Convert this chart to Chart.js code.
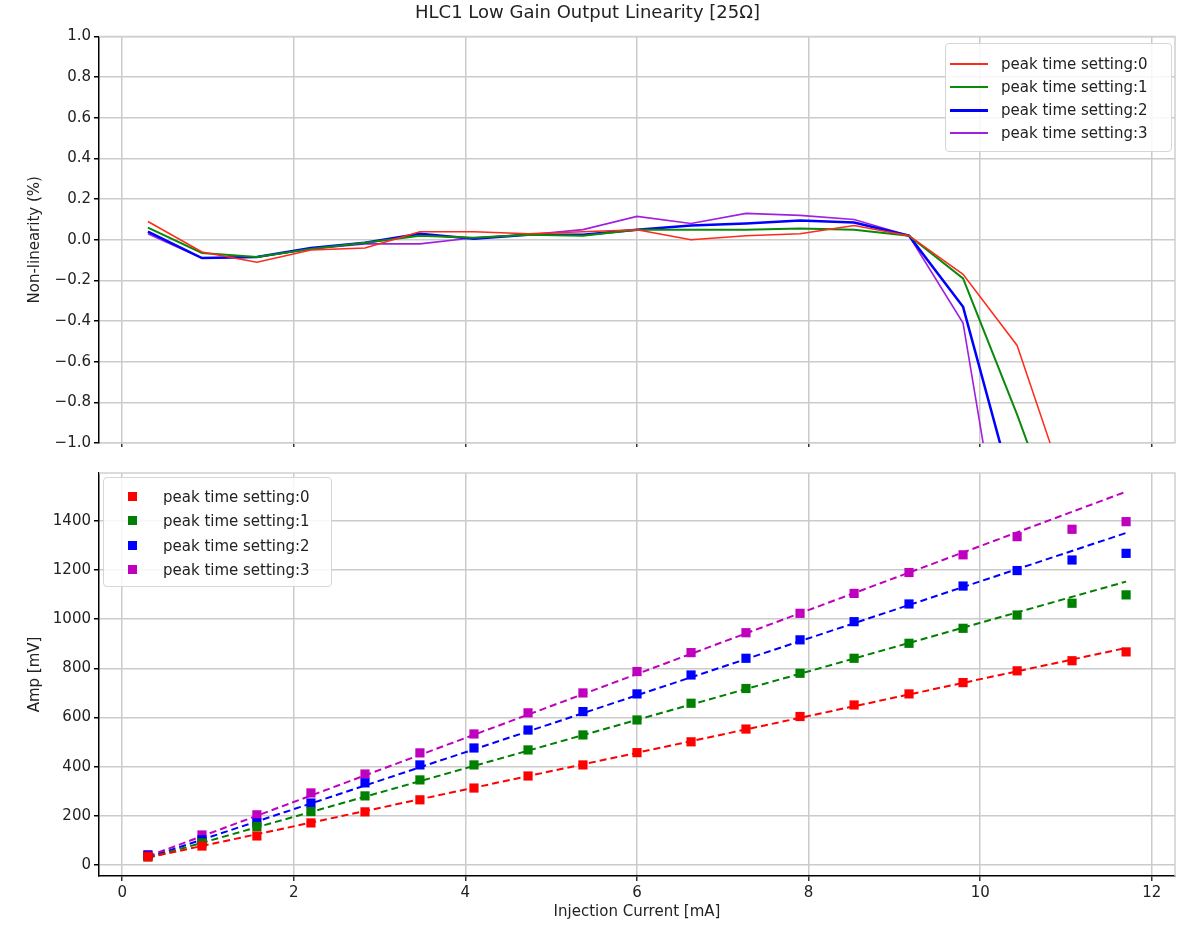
<!DOCTYPE html>
<html>
<head>
<meta charset="utf-8">
<title>HLC1 Low Gain Output Linearity</title>
<script src="https://cdn.jsdelivr.net/npm/chart.js@4.4.1/dist/chart.umd.min.js"></script>
<style>
    html, body { margin: 0; padding: 0; background: #fff; }
    .figure { position: relative; width: 1186px; height: 925px; overflow: hidden; font-family: "DejaVu Sans", sans-serif; }
    #nonlin_chart { position: absolute; left: 0; top: 0; }
    #amp_chart { position: absolute; left: 0; top: 460px; }
    .legend_box { position: absolute; background: rgba(255,255,255,0.85); border: 1px solid #d6d6d6; border-radius: 4px; font-size: 15px; color: #222; }
    .legend_row { position: absolute; left: 0; right: 0; height: 20px; line-height: 20px; white-space: nowrap; }
    .legend_row span { position: absolute; top: 0; }
    .legend_line { position: absolute; }
    .legend_mark { position: absolute; }
</style>
</head>
<body>
<div class="figure">
    <canvas id="nonlin_chart" width="1186" height="460"></canvas>
    <canvas id="amp_chart" width="1186" height="465"></canvas>
    <div class="legend_box" id="nonlin_legend" style="left:945px; top:43px; width:225px; height:107px;"></div>
    <div class="legend_box" id="amp_legend" style="left:103px; top:477px; width:227px; height:108px;"></div>
</div>
<script>
// injection current [mA], same for every setting
const currents = [0.30, 0.93, 1.57, 2.20, 2.83, 3.47, 4.10, 4.73, 5.37, 6.00, 6.63, 7.27, 7.90, 8.53, 9.17, 9.80, 10.43, 11.07, 11.70]

const series_labels = ['peak time setting:0', 'peak time setting:1', 'peak time setting:2', 'peak time setting:3']

// non-linearity (%) per setting
const nonlin_0 = [0.09, -0.06, -0.11, -0.05, -0.04, 0.04, 0.04, 0.03, 0.04, 0.05, 0.00, 0.02, 0.03, 0.07, 0.02, -0.17, -0.52, -1.32, -2.20]
const nonlin_1 = [0.06, -0.065, -0.085, -0.045, -0.015, 0.02, 0.01, 0.025, 0.02, 0.05, 0.05, 0.05, 0.055, 0.05, 0.02, -0.19, -0.86, -1.60, -2.60]
const nonlin_2 = [0.04, -0.09, -0.085, -0.04, -0.015, 0.03, 0.005, 0.025, 0.025, 0.05, 0.07, 0.08, 0.095, 0.085, 0.02, -0.33, -1.31, -2.20, -3.20]
const nonlin_3 = [0.03, -0.09, -0.085, -0.045, -0.02, -0.02, 0.01, 0.025, 0.05, 0.115, 0.08, 0.13, 0.12, 0.10, 0.02, -0.41, -2.00, -3.00, -4.00]

// measured amplitude [mV] per setting
const amp_0 = [33, 77, 118, 171, 216, 265, 313, 362, 407, 457, 501, 553, 604, 651, 696, 742, 790, 831, 867]
const amp_1 = [33, 90, 156, 217, 281, 346, 407, 468, 529, 590, 658, 718, 780, 841, 902, 963, 1017, 1065, 1099]
const amp_2 = [38, 102, 171, 252, 334, 407, 476, 549, 624, 696, 773, 841, 916, 990, 1062, 1135, 1198, 1241, 1268]
const amp_3 = [42, 122, 204, 293, 370, 456, 533, 619, 700, 787, 864, 945, 1024, 1105, 1190, 1262, 1336, 1366, 1397]

// linear fit end points
const fit_x = [0.30, 11.70]
const fit_0 = [30, 883]
const fit_1 = [28, 1153]
const fit_2 = [30, 1351]
const fit_3 = [35, 1519]

const x_ticks = [0, 2, 4, 6, 8, 10, 12]
const nonlin_ticks = [-1.0, -0.8, -0.6, -0.4, -0.2, 0.0, 0.2, 0.4, 0.6, 0.8, 1.0]
const amp_ticks = [0, 200, 400, 600, 800, 1000, 1200, 1400]

class LinearityFigure {
    constructor(){
        this.font = 'DejaVu Sans'
        this.text_color = '#222'
        this.grid_color = '#cbcbcb'
        this.line_colors = ['#ff2a1a', '#0a8a0a', '#0000ff', '#a020e0']
        this.line_widths = [1.5, 2, 2.5, 1.6]
        this.mark_colors = ['#ff0000', '#008000', '#0000ff', '#bf00bf']
        this.x_range = [-0.27, 12.27]

        this.frame = {
            id: 'frame',
            beforeDatasetsDraw(chart){
                const {ctx, chartArea} = chart
                ctx.save()
                ctx.strokeStyle = '#cfcfcf'
                ctx.lineWidth = 1.5
                ctx.beginPath()
                ctx.moveTo(chartArea.left, chartArea.top)
                ctx.lineTo(chartArea.right, chartArea.top)
                ctx.lineTo(chartArea.right, chartArea.bottom)
                ctx.stroke()
                ctx.restore()
            }
        }

        this.nonlin_plot()
        this.amp_plot()
        this.legends()
    }

    f(size){ return {family: this.font, size: size, lineHeight: 1.2} }

    x_scale(show_labels){
        return {
            type: 'linear',
            min: this.x_range[0],
            max: this.x_range[1],
            afterBuildTicks: s => { s.ticks = x_ticks.map(v => ({value: v})) },
            afterFit: s => { s.height = show_labels ? 49 : 17 },
            ticks: {display: show_labels, font: this.f(15), color: this.text_color, padding: 3, maxRotation: 0},
            grid: {color: this.grid_color, lineWidth: 1.5, tickLength: show_labels ? 5 : 4, tickColor: '#333'},
            border: {color: show_labels ? '#000' : '#cfcfcf', width: 1.5},
            title: {display: show_labels, text: 'Injection Current [mA]', font: this.f(15), color: this.text_color, padding: {top: 0, bottom: 4}}
        }
    }

    y_scale(min, max, ticks, label, fmt){
        return {
            type: 'linear',
            min: min,
            max: max,
            afterBuildTicks: s => { s.ticks = ticks.map(v => ({value: v})) },
            afterFit: s => { s.width = 99 },
            ticks: {font: this.f(15), color: this.text_color, padding: 3, callback: fmt},
            grid: {color: this.grid_color, lineWidth: 1.5, tickLength: 5, tickColor: '#000'},
            border: {color: '#000', width: 1.5},
            title: {display: true, text: label, font: this.f(15), color: this.text_color, padding: {top: 26, bottom: 0}}
        }
    }

    nonlin_plot(){
        const series = [nonlin_0, nonlin_1, nonlin_2, nonlin_3]
        const datasets = series.map((values, i) => ({
            label: series_labels[i],
            data: currents.map((x, j) => ({x: x, y: values[j]})),
            borderColor: this.line_colors[i],
            borderWidth: this.line_widths[i],
            pointRadius: 0,
            tension: 0,
            fill: false
        }))

        this.nonlin = new Chart(document.querySelector('#nonlin_chart'), {
            type: 'line',
            data: {datasets: datasets},
            options: {
                responsive: false,
                animation: false,
                devicePixelRatio: 1,
                layout: {padding: {left: 0, right: 11, top: 0, bottom: 0}},
                plugins: {
                    legend: {display: false},
                    tooltip: {enabled: false},
                    title: {
                        display: true,
                        text: 'HLC1 Low Gain Output Linearity [25\u03A9]',
                        font: {family: this.font, size: 18, lineHeight: 1.2, weight: 'normal'},
                        color: this.text_color,
                        padding: {top: 3, bottom: 12}
                    }
                },
                scales: {
                    x: this.x_scale(false),
                    y: this.y_scale(-1, 1, nonlin_ticks, 'Non-linearity (%)', v => v.toFixed(1).replace('-', '\u2212'))
                }
            },
            plugins: [this.frame]
        })
    }

    amp_plot(){
        const amps = [amp_0, amp_1, amp_2, amp_3]
        const fits = [fit_0, fit_1, fit_2, fit_3]
        const marks = amps.map((values, i) => ({
            label: series_labels[i],
            data: currents.map((x, j) => ({x: x, y: values[j]})),
            backgroundColor: this.mark_colors[i],
            borderColor: this.mark_colors[i],
            borderWidth: 0,
            pointStyle: 'rect',
            pointRadius: 6.5,
            showLine: false
        }))
        const lines = fits.map((values, i) => ({
            label: 'fit ' + i,
            data: fit_x.map((x, j) => ({x: x, y: values[j]})),
            borderColor: this.mark_colors[i],
            borderWidth: 2,
            borderDash: [7, 4],
            pointRadius: 0,
            showLine: true
        }))

        this.amp = new Chart(document.querySelector('#amp_chart'), {
            type: 'scatter',
            data: {datasets: marks.concat(lines)},
            options: {
                responsive: false,
                animation: false,
                devicePixelRatio: 1,
                layout: {padding: {left: 0, right: 11, top: 13, bottom: 0}},
                plugins: {legend: {display: false}, tooltip: {enabled: false}},
                scales: {
                    x: this.x_scale(true),
                    y: this.y_scale(-45, 1595, amp_ticks, 'Amp [mV]', v => String(v))
                }
            },
            plugins: [this.frame]
        })
    }

    legends(){
        const nonlin_sets = this.nonlin.data.datasets
        document.querySelector('#nonlin_legend').innerHTML = nonlin_sets.map((d, i) => `
            <div class="legend_row" style="top:${10 + i * 23}px">
                <div class="legend_line" style="left:4px; width:38px; top:${10 - Math.ceil(d.borderWidth) / 2}px; height:${Math.ceil(d.borderWidth)}px; background:${d.borderColor}"></div>
                <span style="left:55px">${d.label}</span>
            </div>`).join('')

        const amp_sets = this.amp.data.datasets.filter(d => d.pointStyle === 'rect')
        document.querySelector('#amp_legend').innerHTML = amp_sets.map((d, i) => `
            <div class="legend_row" style="top:${9 + i * 24.3}px">
                <div class="legend_mark" style="left:24px; top:5px; width:9px; height:9px; background:${d.backgroundColor}"></div>
                <span style="left:59px">${d.label}</span>
            </div>`).join('')
    }
}

new LinearityFigure()
</script>
</body>
</html>
